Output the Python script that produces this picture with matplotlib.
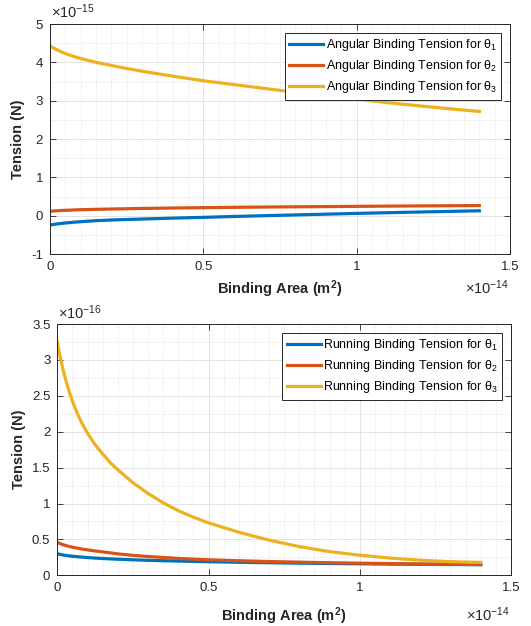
import matplotlib
matplotlib.use("Agg")
import matplotlib.pyplot as plt
from matplotlib.ticker import MultipleLocator, FormatStrFormatter

plt.rcParams["font.family"] = ["Liberation Sans", "DejaVu Sans"]
plt.rcParams["mathtext.fontset"] = "custom"
plt.rcParams["mathtext.rm"] = "Liberation Sans"
plt.rcParams["mathtext.it"] = "Liberation Sans:italic"
plt.rcParams["mathtext.bf"] = "Liberation Sans:bold"
plt.rcParams["axes.unicode_minus"] = False

# ---- data (x in units of 1e-14 m^2, tension in 1e-15 N / 1e-16 N) ----
x_exp = -14
angular_exp = -15
running_exp = -16

area_angular = [0, 0.01, 0.02, 0.035, 0.05, 0.075, 0.1, 0.15, 0.2, 0.25, 0.3,
                0.4, 0.5, 0.6, 0.7, 0.8, 0.9, 1.0, 1.1, 1.2, 1.3, 1.4]
angular_theta1 = [-0.245, -0.23, -0.218, -0.203, -0.19, -0.172, -0.156, -0.13,
                  -0.112, -0.099, -0.087, -0.064, -0.043, -0.02, 0.0, 0.02,
                  0.04, 0.06, 0.078, 0.095, 0.112, 0.128]
angular_theta2 = [0.114, 0.122, 0.128, 0.135, 0.14, 0.149, 0.157, 0.166,
                  0.174, 0.182, 0.189, 0.2, 0.21, 0.218, 0.226, 0.232, 0.238,
                  0.244, 0.25, 0.255, 0.26, 0.265]
angular_theta3 = [4.43, 4.38, 4.34, 4.28, 4.23, 4.16, 4.10, 4.00, 3.92, 3.84,
                  3.77, 3.64, 3.52, 3.42, 3.32, 3.22, 3.13, 3.04, 2.95, 2.87,
                  2.79, 2.72]

area_running = [0, 0.01, 0.02, 0.03, 0.04, 0.055, 0.07, 0.085, 0.1, 0.125,
                0.15, 0.175, 0.2, 0.25, 0.3, 0.35, 0.4, 0.45, 0.5, 0.6, 0.7,
                0.8, 0.9, 1.0, 1.1, 1.2, 1.3, 1.4]
running_theta1 = [0.30, 0.29, 0.282, 0.276, 0.27, 0.263, 0.257, 0.252, 0.247,
                  0.24, 0.234, 0.229, 0.224, 0.216, 0.209, 0.203, 0.198,
                  0.193, 0.189, 0.181, 0.175, 0.169, 0.164, 0.16, 0.156,
                  0.153, 0.15, 0.148]
running_theta2 = [0.46, 0.44, 0.425, 0.412, 0.401, 0.387, 0.375, 0.364, 0.354,
                  0.339, 0.326, 0.313, 0.298, 0.278, 0.262, 0.248, 0.235,
                  0.225, 0.216, 0.203, 0.192, 0.183, 0.175, 0.169, 0.163,
                  0.158, 0.154, 0.15]
running_theta3 = [3.25, 3.03, 2.85, 2.69, 2.55, 2.37, 2.22, 2.09, 1.98, 1.82,
                  1.69, 1.57, 1.47, 1.29, 1.14, 1.01, 0.90, 0.81, 0.73, 0.60,
                  0.49, 0.40, 0.33, 0.28, 0.24, 0.21, 0.19, 0.18]

colors = ["#0072BD", "#D95319", "#EDB120"]
axis_color = "#262626"

fig = plt.figure(figsize=(5.31, 6.26), dpi=100)
ax1 = fig.add_axes([0.0942, 0.5942, 0.8663, 0.3674])
ax2 = fig.add_axes([0.1079, 0.0810, 0.8544, 0.4013])


def style_axes(ax, xlim, ylim, ymajor, yminor):
    ax.set_xlim(*xlim)
    ax.set_ylim(*ylim)
    ax.xaxis.set_major_locator(MultipleLocator(0.5))
    ax.xaxis.set_minor_locator(MultipleLocator(0.05))
    ax.yaxis.set_major_locator(MultipleLocator(ymajor))
    ax.yaxis.set_minor_locator(MultipleLocator(yminor))
    ax.xaxis.set_major_formatter(FormatStrFormatter("%g"))
    ax.yaxis.set_major_formatter(FormatStrFormatter("%g"))
    ax.grid(which="major", color="#dfdfdf", linewidth=0.6, linestyle="-")
    ax.grid(which="minor", color="#cccccc", linewidth=0.5, linestyle=(0, (1, 2)))
    ax.set_axisbelow(True)
    ax.tick_params(which="major", direction="in", length=4, width=0.6,
                   top=True, right=True, colors=axis_color, labelsize=9.5,
                   pad=5)
    ax.tick_params(which="minor", length=0, top=True, right=True)
    for s in ax.spines.values():
        s.set_color(axis_color)
        s.set_linewidth(0.7)


def add_legend(ax, handles):
    leg = ax.legend(handles=handles, loc="upper right", fontsize=9.0,
                    frameon=True, fancybox=False, framealpha=1,
                    edgecolor=axis_color, handlelength=2.7, handletextpad=0.2,
                    borderaxespad=0.7, labelspacing=0.4, borderpad=0.35)
    leg.get_frame().set_linewidth(0.7)


# ---- top: angular binding tension ----
lines = []
for yv, c, k in zip([angular_theta1, angular_theta2, angular_theta3], colors, [1, 2, 3]):
    ln, = ax1.plot(area_angular, yv, color=c, linewidth=2.3,
                   label=f"Angular Binding Tension for θ$_{k}$")
    lines.append(ln)
style_axes(ax1, (0, 1.5), (-1, 5), 1, 0.5)
add_legend(ax1, lines)

# ---- bottom: running binding tension ----
lines = []
for yv, c, k in zip([running_theta1, running_theta2, running_theta3], colors, [1, 2, 3]):
    ln, = ax2.plot(area_running, yv, color=c, linewidth=2.3,
                   label=f"Running Binding Tension for θ$_{k}$")
    lines.append(ln)
style_axes(ax2, (0, 1.5), (0, 3.5), 0.5, 0.25)
add_legend(ax2, lines)

for ax, yexp, top_off, xl_y in [(ax1, angular_exp, 1.012, -0.105),
                                 (ax2, running_exp, 1.008, -0.12)]:
    ax.set_xlabel(r"Binding Area (m$^{\mathbf{2}}$)", fontsize=10.5,
                  fontweight="bold", color=axis_color)
    ax.xaxis.set_label_coords(0.5, xl_y)
    ax.xaxis.label.set_va("top")
    ax.set_ylabel("Tension (N)", fontsize=10.5, fontweight="bold",
                  color=axis_color)
    ax.text(0.002, top_off, f"×10$^{{{yexp}}}$", transform=ax.transAxes,
            ha="left", va="bottom", fontsize=10.5, color=axis_color)
    ax.text(0.998, xl_y, f"×10$^{{{x_exp}}}$", transform=ax.transAxes,
            ha="right", va="top", fontsize=10.5, color=axis_color)

ax1.yaxis.set_label_coords(-0.055, 0.5)
ax2.yaxis.set_label_coords(-0.07, 0.5)

fig.savefig("out.png", dpi=100, facecolor="white")
